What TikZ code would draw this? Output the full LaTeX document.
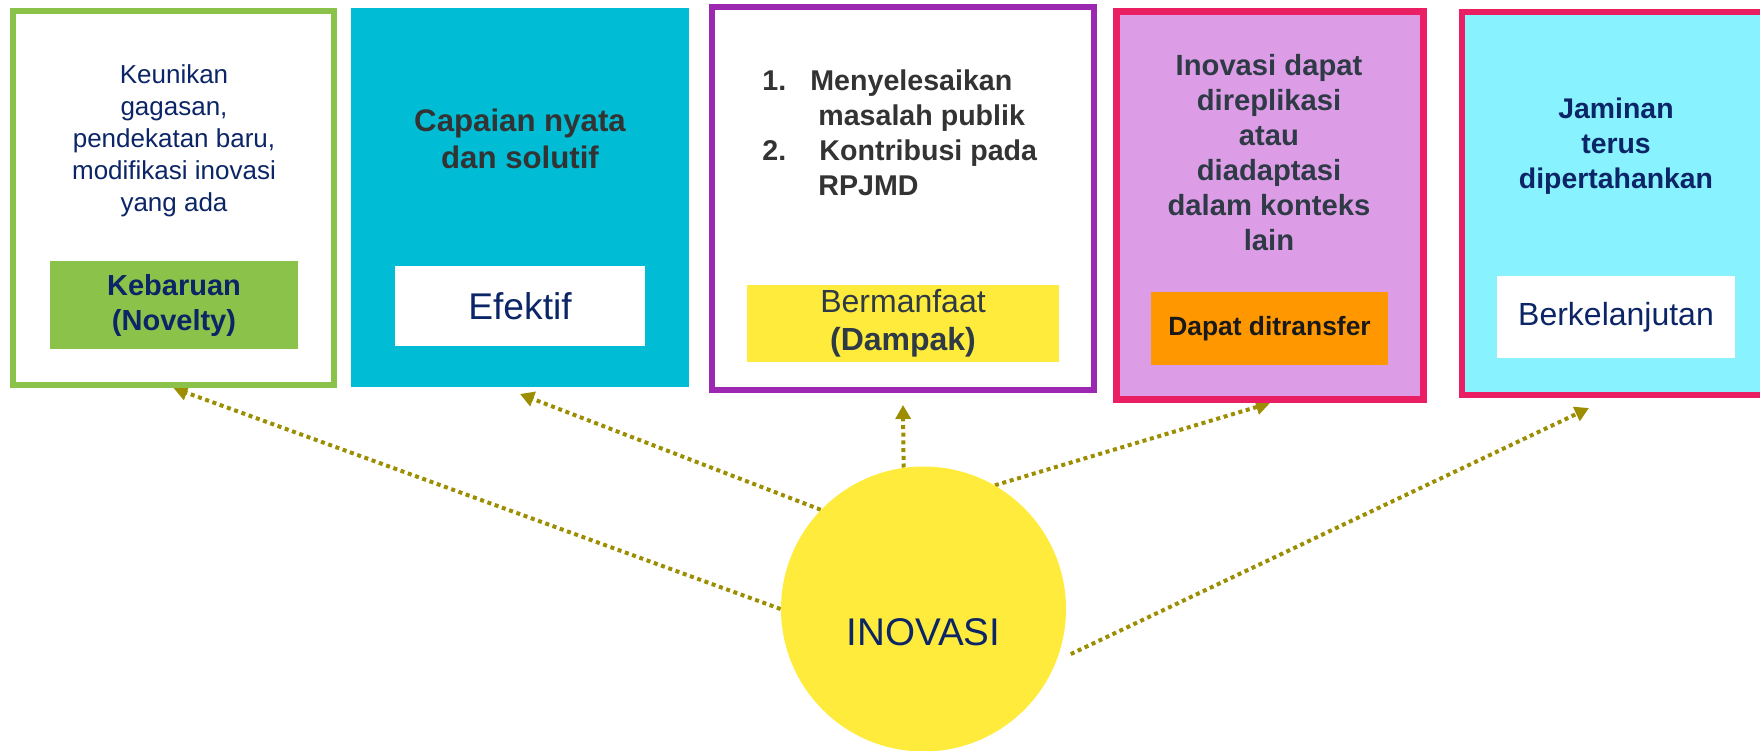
\documentclass[tikz,border=0pt]{standalone}
\usepackage{fontspec}
\setmainfont{Liberation Sans}
\usepackage{xcolor}
\usetikzlibrary{arrows.meta,positioning,backgrounds}
\definecolor{novgreen}{HTML}{8BC34A}
\definecolor{efcyan}{HTML}{00BCD4}
\definecolor{dampurple}{HTML}{9C27B0}
\definecolor{hotpink}{HTML}{E91E63}
\definecolor{orchidfill}{HTML}{DD9DE6}
\definecolor{icecyan}{HTML}{88F2FF}
\definecolor{sunyellow}{HTML}{FFEB3B}
\definecolor{deeporange}{HTML}{FF9800}
\definecolor{inknavy}{HTML}{0B2566}
\definecolor{charcoal}{HTML}{333333}
\definecolor{slateink}{HTML}{2E3A46}
\definecolor{arrowolive}{HTML}{9C8E00}

\begin{document}
\begin{tikzpicture}[
    x=0.5pt, y=-0.5pt,
    nosep/.style={inner sep=0},
    card/.style={rectangle, line width=3pt, anchor=center},
    tag/.style={rectangle, nosep, anchor=center, align=center},
    blurb/.style={nosep, align=center},
    link/.style={draw=arrowolive, line width=2pt, dash pattern=on 2pt off 1.85pt,
        -{Triangle[width=7.5pt,length=7pt]}},
    sun/.style={circle, nosep, fill=sunyellow, minimum size=142.5pt}]
\path[use as bounding box, clip] (0,0) rectangle (1760,750);

\node[card, draw=novgreen, fill=white, minimum width=160.5pt, minimum height=187pt] (novelty) at (173.5,198) {};
\node[card, fill=efcyan, minimum width=169pt, minimum height=189.5pt] (effective) at (520,197.5) {};
\node[card, draw=dampurple, fill=white, minimum width=191pt, minimum height=191.5pt] (impact) at (903,198.5) {};
\node[card, draw=hotpink, fill=orchidfill, line width=3.5pt, minimum width=153.5pt, minimum height=194pt] (transfer) at (1270,205.5) {};
\node[card, draw=hotpink, fill=icecyan, minimum width=154.25pt, minimum height=191.5pt] (sustain) at (1615.75,203) {};

\node[blurb, text=inknavy, font=\fontsize{13pt}{16pt}\selectfont] (noveltytxt) at (174,140.5)
    {Keunikan\\gagasan,\\pendekatan baru,\\modifikasi inovasi\\yang ada};
\node[blurb, text=charcoal, font=\fontsize{15.6pt}{18.5pt}\selectfont\bfseries] (effectivetxt) at (520,139)
    {Capaian nyata\\dan solutif};
\node[nosep, align=left, anchor=north west, text=charcoal, font=\fontsize{14.3pt}{17.5pt}\selectfont\bfseries] (impacttxt) at (762,69)
    {\makebox[24pt][l]{1.}Menyelesaikan\\
     \hspace*{28pt}masalah publik\\
     \makebox[28.5pt][l]{2.}Kontribusi pada\\
     \hspace*{28pt}RPJMD};
\node[blurb, text=slateink, font=\fontsize{14.6pt}{17.5pt}\selectfont\bfseries] (transfertxt) at (1269,152.5)
    {Inovasi dapat\\direplikasi\\atau\\diadaptasi\\dalam konteks\\lain};
\node[blurb, text=inknavy, font=\fontsize{14.2pt}{17.5pt}\selectfont\bfseries] (sustaintxt) at (1616,146.5)
    {Jaminan\\terus\\dipertahankan};

\node[tag, fill=novgreen, text=inknavy, minimum width=124pt, minimum height=44pt,
    font=\fontsize{14.5pt}{17.5pt}\selectfont\bfseries] (noveltytag) at (174,305) {Kebaruan\\(Novelty)};
\node[tag, fill=white, text=inknavy, minimum width=125pt, minimum height=40pt,
    font=\fontsize{18.6pt}{22pt}\selectfont] (effectivetag) at (520,306) {Efektif};
\node[tag, fill=sunyellow, text=slateink, minimum width=156pt, minimum height=38.5pt,
    font=\fontsize{16pt}{19pt}\selectfont] (impacttag) at (903,323.5) {Bermanfaat\\\textbf{(Dampak)}};
\node[tag, fill=deeporange, text=black!90, minimum width=118.5pt, minimum height=36.5pt,
    font=\fontsize{13.2pt}{15pt}\selectfont\bfseries] (transfertag) at (1269.5,328.5) {Dapat ditransfer};
\node[tag, fill=white, text=inknavy, minimum width=119pt, minimum height=41pt,
    font=\fontsize{16pt}{18pt}\selectfont] (sustaintag) at (1616,317) {Berkelanjutan};

\node[sun, text=inknavy, font=\fontsize{19.3pt}{24pt}\selectfont, text height=36.5pt, text depth=0pt] (inov) at (923.5,609) {INOVASI};

\begin{scope}[on background layer]
\draw[link] (inov.west) -- (novelty.south);
\draw[link] (inov.136) -- ([yshift=-2pt]effective.south);
\draw[link] (inov.98) -- ([yshift=-6pt]impact.south);
\draw[link] (inov.60) -- (transfer.south);
\draw[link] ([xshift=5.3pt,yshift=-1.65pt]inov.-17.5) -- ([xshift=-13.4pt,yshift=-5.25pt]sustain.south);
\end{scope}

\end{tikzpicture}
\end{document}
